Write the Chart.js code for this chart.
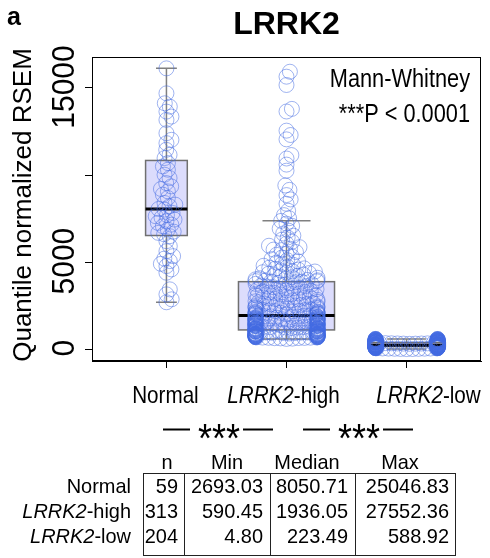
<!DOCTYPE html>
<html><head><meta charset="utf-8">
<script src="https://cdn.jsdelivr.net/npm/chart.js@4.4.0/dist/chart.umd.min.js"></script>
<style>html,body{margin:0;padding:0;background:#fff}#wrap{width:490px;height:558px;position:relative}</style>
</head><body><div id="wrap"><canvas id="c" width="490" height="558"></canvas></div>
<script>
// ---------------- DATA ----------------
const categories = ['Normal', 'LRRK2-high', 'LRRK2-low'];
const sampleSizes = [59, 313, 204];

const normalValues = [25047, 18500, 16128, 14694, 14121, 13930, 13644, 13358, 13168, 12404, 12023, 11832, 11450, 11164, 10973,
  10687, 10496, 10305, 10019, 9828, 9542, 9351, 9200, 9064, 8874, 8683, 8397, 8300, 8206,
  8051,
  8015, 7824, 7700, 7633, 7550, 7443, 7350, 7252, 7150, 7061, 6870, 6750, 6679, 6600,
  6488, 6202, 5916, 5630, 5344, 5200, 5057, 4900, 4771, 4580, 4389, 3435, 3149, 2863, 2693];

const highValues = [27552, 21500, 18200, 15934, 15650, 15172, 13800, 13650, 12550, 12300, 12050, 11150, 10950, 10600, 10250, 9400, 9150, 8850, 8600, 8350, 7950, 7700, 7520,
  7368, 7210, 7080, 6920, 6810, 6640, 6520, 6410, 6290, 6170, 6060, 5940, 5860, 5770, 5690, 5580, 5490, 5420, 5330, 5260,
  5170, 5110, 5040, 4970, 4910, 4850, 4790, 4730, 4680, 4620, 4570, 4520, 4470, 4420, 4370, 4330, 4290, 4250, 4210, 4170,
  4130, 4100, 4070, 4040, 4010, 3980, 3955, 3930, 3910, 3895, 3885, 4460, 4640, 4390, 5720,
  3876, 3845, 3810, 3782, 3750, 3721, 3690, 3655, 3628, 3596, 3560, 3534, 3502, 3470, 3441, 3408, 3377, 3350, 3318, 3290,
  3255, 3228, 3196, 3170, 3138, 3110, 3080, 3052, 3020, 2995, 2968, 2940, 2910, 2884, 2856, 2830, 2801, 2776, 2750, 2722,
  2698, 2671, 2645, 2620, 2597, 2572, 2548, 2524, 2500, 2478, 2455, 2433, 2410, 2390, 2368, 2347, 2326, 2306, 2286, 2266,
  2247, 2228, 2210, 2192, 2174, 2156, 2139, 2122, 2106, 2090, 2074, 2058, 2043, 2028, 2013, 1998, 1983, 1960,
  1936,
  1925, 1912, 1898, 1885, 1871, 1860, 1846, 1833, 1821, 1808, 1796, 1784, 1771, 1760, 1748, 1736, 1724, 1713, 1701, 1690,
  1679, 1667, 1656, 1645, 1634, 1623, 1612, 1601, 1590, 1580, 1569, 1558, 1548, 1537, 1527, 1516, 1506, 1496, 1486, 1475,
  1465, 1455, 1445, 1435, 1425, 1415, 1405, 1395, 1385, 1375, 1366, 1356, 1346, 1337, 1327, 1317, 1308, 1298, 1289, 1279,
  1270, 1260, 1251, 1242, 1232, 1223, 1214, 1204, 1195, 1186, 1177, 1168, 1159, 1150, 1141, 1132, 1123, 1112,
  1098, 1090, 1083, 1075, 1068, 1060, 1053, 1046, 1038, 1031, 1024, 1017, 1010, 1003, 996, 989, 982, 975, 968, 961,
  954, 948, 941, 934, 928, 921, 914, 908, 901, 895, 888, 882, 876, 869, 863, 857, 851, 845, 839, 833,
  827, 821, 815, 809, 803, 797, 791, 785, 780, 774, 768, 762, 757, 751, 746, 740, 735, 729, 724, 718,
  713, 708, 702, 697, 692, 687, 681, 676, 671, 666, 660, 654, 647, 640, 631, 620, 606, 590];

const lowValues = [4.8, 9, 14, 19, 24, 29, 33, 37, 41, 45, 49, 53, 57, 60, 63, 66, 69, 72, 75, 78,
  81, 84, 86, 89, 91, 94, 96, 99, 101, 104, 106, 108, 111, 113, 115, 117, 120, 122, 124, 126,
  128, 130, 132, 134, 136, 138, 140, 142, 144, 146, 148, 150, 152, 154, 156, 157, 159, 161, 163, 165,
  166, 168, 170, 171, 173, 175, 176, 178, 180, 181, 183, 184, 186, 187, 189, 190, 192, 193, 195, 196,
  198, 199, 200, 202, 203, 204, 206, 207, 208, 209, 211, 212, 213, 214, 215, 216, 217, 218, 219, 220,
  221, 222.5,
  224.5, 227, 229, 232, 235, 238, 241, 244, 247, 250, 253, 256, 259, 262, 265, 268, 271, 274, 277, 280,
  283, 286, 289, 292, 295, 298, 301, 304, 307, 310, 313, 316, 319, 322, 325, 328, 331, 334, 337, 340,
  343, 346, 349, 352, 355, 358, 361, 364, 367, 370, 373, 376, 379, 382, 385, 388, 391, 394, 397, 400,
  404, 408, 412, 416, 420, 424, 428, 432, 436, 440, 444, 448, 452, 456, 460, 464, 468, 472, 476, 480,
  484, 488, 492, 496, 500, 505, 510, 515, 520, 525, 530, 535, 541, 547, 553, 559, 565, 571, 577, 582, 586, 588.92];

const boxQ1 = [6527, 1105, 148];
const boxMedian = [8050.71, 1936.05, 223.49];
const boxQ3 = [10838, 3876, 373];
const whiskerLow = [2693.03, 590.45, 4.80];
const whiskerHigh = [16128, 7368, 588.92];

const yTicks = [0, 5000, 10000, 15000];
const yTickLabels = ['0', '5000', '', '15000'];
const tableHeader = ['n', 'Min', 'Median', 'Max'];
const tableN = ['59', '313', '204'];
const tableMin = ['2693.03', '590.45', '4.80'];
const tableMedian = ['8050.71', '1936.05', '223.49'];
const tableMax = ['25046.83', '27552.36', '588.92'];

// ---------------- RENDER ----------------
const FONT = '"Liberation Sans", Arial, Helvetica, sans-serif';
const groups = [normalValues, highValues, lowValues];

function font(size, weight, style) { return (style || 'normal') + ' ' + (weight || 'normal') + ' ' + size + 'px ' + FONT; }

function splitLabel(label) {
  const m = label.match(/^(LRRK2)(.*)$/);
  return m ? [[m[1], true], [m[2], false]] : [[label, false]];
}
function drawRich(ctx, segs, x, y, size, align, sx) {
  sx = sx || 1;
  let w = 0;
  const widths = segs.map(s => { ctx.font = font(size, 'normal', s[1] ? 'italic' : 'normal'); const m = ctx.measureText(s[0]).width; w += m; return m; });
  let start = align === 'center' ? -w / 2 : align === 'right' ? -w : 0;
  ctx.save();
  ctx.translate(x, y);
  ctx.scale(sx, 1);
  ctx.textAlign = 'left'; ctx.textBaseline = 'alphabetic'; ctx.fillStyle = '#000';
  let cx = start;
  segs.forEach((s, i) => { ctx.font = font(size, 'normal', s[1] ? 'italic' : 'normal'); ctx.fillText(s[0], cx, 0); cx += widths[i]; });
  ctx.restore();
}
function drawText(ctx, str, x, y, opts) {
  ctx.save();
  ctx.translate(x, y);
  if (opts.rot) ctx.rotate(opts.rot);
  ctx.scale(opts.sx || 1, 1);
  ctx.font = font(opts.size, opts.weight, opts.style);
  ctx.textAlign = opts.align || 'left';
  ctx.textBaseline = 'alphabetic';
  ctx.fillStyle = '#000';
  ctx.fillText(str, 0, 0);
  ctx.restore();
}

const boxPlugin = {
  id: 'boxes',
  beforeDatasetsDraw(chart) {
    const { ctx, scales: { x, y } } = chart;
    const maxRoot = Math.max(...sampleSizes.map(n => Math.sqrt(n)));
    categories.forEach((c, i) => {
      const half = 0.4 * Math.sqrt(sampleSizes[i]) / maxRoot;
      const xl = x.getPixelForValue(i + 1 - half), xr = x.getPixelForValue(i + 1 + half), xc = x.getPixelForValue(i + 1);
      const cl = x.getPixelForValue(i + 1 - half / 2), cr = x.getPixelForValue(i + 1 + half / 2);
      const y1 = y.getPixelForValue(boxQ1[i]), ym = y.getPixelForValue(boxMedian[i]), y3 = y.getPixelForValue(boxQ3[i]);
      const ylo = y.getPixelForValue(whiskerLow[i]), yhi = y.getPixelForValue(whiskerHigh[i]);
      ctx.save();
      ctx.strokeStyle = '#808080'; ctx.lineWidth = 1.5;
      ctx.beginPath();
      ctx.moveTo(xc, y3); ctx.lineTo(xc, yhi);
      ctx.moveTo(xc, y1); ctx.lineTo(xc, ylo);
      ctx.moveTo(cl, yhi); ctx.lineTo(cr, yhi);
      ctx.moveTo(cl, ylo); ctx.lineTo(cr, ylo);
      ctx.stroke();
      ctx.fillStyle = 'rgb(220,220,252)';
      ctx.fillRect(xl, y3, xr - xl, y1 - y3);
      ctx.strokeStyle = '#707070'; ctx.lineWidth = 1.5;
      ctx.strokeRect(xl, y3, xr - xl, y1 - y3);
      ctx.strokeStyle = '#000'; ctx.lineWidth = 3;
      ctx.beginPath(); ctx.moveTo(xl, ym); ctx.lineTo(xr, ym); ctx.stroke();
      ctx.restore();
    });
  }
};

const textPlugin = {
  id: 'texts',
  afterDraw(chart) {
    const { ctx, chartArea: a, scales: { x, y } } = chart;
    ctx.save();
    ctx.strokeStyle = '#000'; ctx.lineWidth = 1;
    ctx.strokeRect(Math.round(a.left) + 0.5, Math.round(a.top) + 0.5, Math.round(a.right - a.left) - 1, Math.round(a.bottom - a.top) - 1);
    ctx.restore();

    drawText(ctx, 'a', 7, 25, { size: 25, weight: 'bold' });
    drawText(ctx, 'LRRK2', (a.left + a.right) / 2, 34, { size: 32, weight: 'bold', align: 'center' });
    drawText(ctx, 'Quantile normalized RSEM', 31, 205, { size: 26, align: 'center', rot: -Math.PI / 2 });
    yTicks.forEach((v, i) => { if (yTickLabels[i]) drawText(ctx, yTickLabels[i], 74, y.getPixelForValue(v) - 1, { size: 32, sx: 0.94, align: 'center', rot: -Math.PI / 2 }); });
    drawText(ctx, 'Mann-Whitney', 470, 87, { size: 25, sx: 0.87, align: 'right' });
    drawText(ctx, '***P < 0.0001', 470, 122, { size: 25, sx: 0.87, align: 'right' });
    const catShift = [-1, -3, 22];
    categories.forEach((c, i) => drawRich(ctx, splitLabel(c), x.getPixelForValue(i + 1) + catShift[i], 403, 24, 'center', 0.86));
    ctx.save();
    ctx.strokeStyle = '#000'; ctx.lineWidth = 2;
    [[163, 190], [243, 273], [303, 330], [383, 413]].forEach(s => { ctx.beginPath(); ctx.moveTo(s[0], 429.5); ctx.lineTo(s[1], 429.5); ctx.stroke(); });
    ctx.restore();
    [219, 359].forEach(cx => {
      ctx.save();
      ctx.font = font(40);
      const m = ctx.measureText('***');
      const base = 431 + (m.actualBoundingBoxAscent - m.actualBoundingBoxDescent) / 2;
      ctx.restore();
      drawText(ctx, '***', cx, base, { size: 40, sx: 0.9, align: 'center' });
    });
    const hx = [167, 227, 307, 400];
    tableHeader.forEach((h, i) => drawText(ctx, h, hx[i], 469, { size: 21, sx: 0.95, align: 'center' }));
    const rowsY = [493, 518, 543];
    categories.forEach((c, r) => {
      drawRich(ctx, splitLabel(c), 131, rowsY[r], 21, 'right', 0.95);
      drawText(ctx, tableN[r], 178, rowsY[r], { size: 21, sx: 0.95, align: 'right' });
      drawText(ctx, tableMin[r], 263, rowsY[r], { size: 21, sx: 0.95, align: 'right' });
      drawText(ctx, tableMedian[r], 348, rowsY[r], { size: 21, sx: 0.95, align: 'right' });
      drawText(ctx, tableMax[r], 449, rowsY[r], { size: 21, sx: 0.95, align: 'right' });
    });
    ctx.save();
    ctx.strokeStyle = '#222'; ctx.lineWidth = 1;
    ctx.strokeRect(143.5, 473.5, 312, 82);
    ctx.beginPath();
    [184.5, 270.5, 355.5].forEach(vx => { ctx.moveTo(vx, 473.5); ctx.lineTo(vx, 555.5); });
    ctx.stroke();
    ctx.restore();
  }
};

const axisCommon = {
  grid: { display: true, drawOnChartArea: false, drawTicks: true, tickLength: 7, color: '#000', lineWidth: 1 },
  border: { display: true, color: '#000', width: 1 },
  ticks: { display: false }
};

const chart = new Chart(document.getElementById('c'), {
  type: 'scatter',
  data: {
    datasets: groups.map((vals, i) => ({
      label: categories[i],
      data: vals.map(v => ({ x: i + 1, y: v })),
      showLine: false,
      pointRadius: 7.5, pointHoverRadius: 7.5,
      pointBorderWidth: 1,
      pointBorderColor: 'rgba(65,105,225,0.5)',
      pointBackgroundColor: 'rgba(0,0,0,0)',
      clip: 0
    }))
  },
  options: {
    responsive: false, animation: false, devicePixelRatio: 1, events: [],
    layout: { padding: { left: 0, right: 9, top: 57, bottom: 0 } },
    plugins: { legend: { display: false }, tooltip: { enabled: false }, title: { display: false } },
    scales: {
      x: Object.assign({ type: 'linear', min: 0.38, max: 3.62,
        afterBuildTicks: s => { s.ticks = [1, 2, 3].map(v => ({ value: v })); },
        afterFit: s => { s.height = 197; } }, axisCommon),
      y: Object.assign({ type: 'linear', min: -680, max: 16780,
        afterBuildTicks: s => { s.ticks = yTicks.map(v => ({ value: v })); },
        afterFit: s => { s.width = 92; } }, axisCommon)
    }
  },
  plugins: [boxPlugin, textPlugin]
});

function swarmOffsets(values, spacing, limit) {
  const ys = values.map(v => chart.scales.y.getPixelForValue(v));
  const order = ys.map((_, i) => i).sort((a, b) => ys[b] - ys[a]);
  const placed = [];
  const xs = new Array(values.length).fill(0);
  const s2 = spacing * spacing;
  for (const i of order) {
    const yi = ys[i];
    const near = placed.filter(p => Math.abs(p.y - yi) < spacing);
    const cands = [0];
    for (const p of near) { const dx = Math.sqrt(s2 - (p.y - yi) * (p.y - yi)); cands.push(p.x + dx, p.x - dx); }
    cands.sort((a, b) => Math.abs(a) - Math.abs(b));
    let best = 0;
    for (const c of cands) {
      let ok = true;
      for (const p of near) { if ((p.x - c) * (p.x - c) + (p.y - yi) * (p.y - yi) < s2 - 1e-6) { ok = false; break; } }
      if (ok) { best = c; break; }
    }
    placed.push({ x: best, y: yi });
    xs[i] = best;
  }
  return xs.map(v => Math.max(-limit, Math.min(limit, v)));
}
const unit = chart.scales.x.getPixelForValue(2) - chart.scales.x.getPixelForValue(1);
groups.forEach((vals, i) => {
  const off = swarmOffsets(vals, 6, 31);
  chart.data.datasets[i].data = vals.map((v, k) => ({ x: i + 1 + off[k] / unit, y: v }));
});
chart.update('none');
</script></body></html>
